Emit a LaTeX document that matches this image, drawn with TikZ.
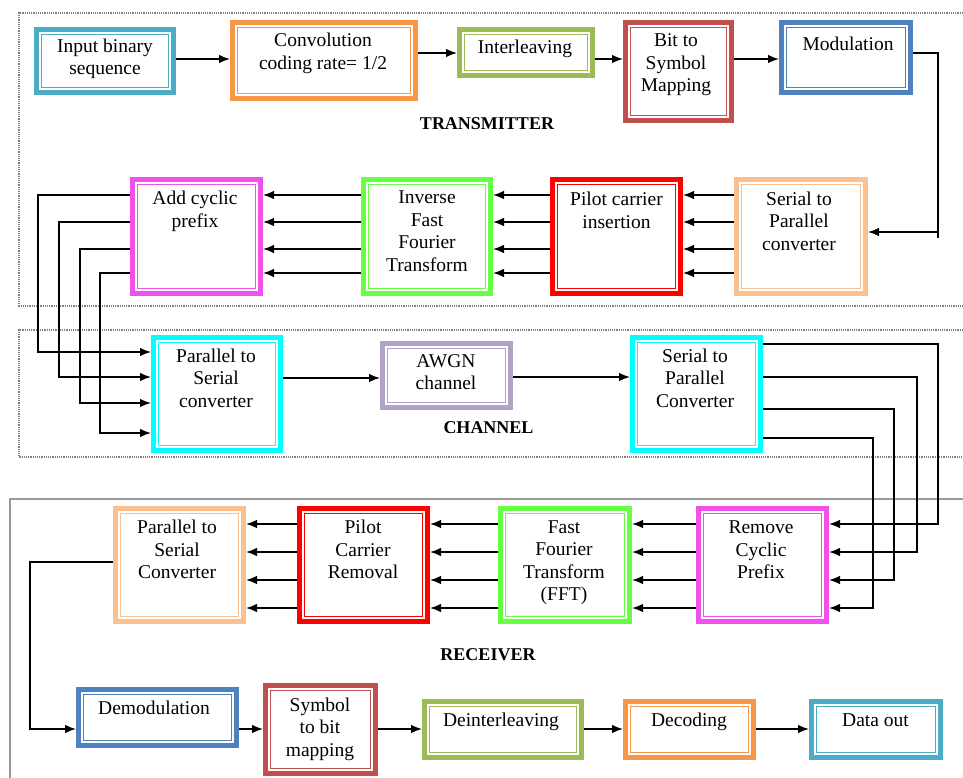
\documentclass[tikz,border=0pt]{standalone}
\usepackage{fontspec}
\setmainfont{Liberation Serif}
\usetikzlibrary{arrows.meta}
\definecolor{cTeal}{HTML}{4BACC6}
\definecolor{cOrange}{HTML}{F79646}
\definecolor{cOlive}{HTML}{9BBB59}
\definecolor{cDRed}{HTML}{C0504D}
\definecolor{cBlue}{HTML}{4F81BD}
\definecolor{cMag}{HTML}{F050EC}
\definecolor{cGreen}{HTML}{66FF44}
\definecolor{cRed}{HTML}{FF0000}
\definecolor{cLOrange}{HTML}{FAC090}
\definecolor{cCyan}{HTML}{00FFFF}
\definecolor{cLav}{HTML}{B3A2C7}
\begin{document}
\begin{tikzpicture}[x=1pt,y=-1pt,
  blk/.style={draw=#1, line width=5pt, inner sep=0pt, fill=white,
    path picture={\draw[#1, line width=1.1pt]
      ([shift={(4.6pt,-4.6pt)}]path picture bounding box.north west) rectangle
      ([shift={(-4.6pt,4.6pt)}]path picture bounding box.south east);}},
  txt/.style={font=\fontsize{19.5}{22.5}\selectfont, align=center, inner sep=0pt, anchor=base},
  ttl/.style={font=\bfseries\fontsize{18}{20}\selectfont, inner sep=0pt, anchor=base},
  arr/.style={draw=black, line width=1.4pt, -{Latex[length=11pt,width=8.5pt]}},
  ln/.style={draw=black, line width=1.4pt},
  frm/.style={draw=gray, densely dotted, line width=1.2pt},
  rfrm/.style={draw=gray!80, line width=1.2pt}]
\useasboundingbox (0,0) rectangle (963,778);

% frames
\draw[frm] (963,13) -- (19,13) -- (19,306) -- (963,306);
\draw[frm] (963,330) -- (19,330) -- (19,457) -- (963,457);
\draw[rfrm] (10,778) -- (10,499) -- (963,499);

% transmitter top row
\node[blk=cTeal, minimum width=137pt, minimum height=63pt] (inp) at (105,61) {};
\node[blk=cOrange, minimum width=183pt, minimum height=76pt] (conv) at (324,60.5) {};
\node[blk=cOlive, minimum width=133pt, minimum height=46pt] (intl) at (526,52.5) {};
\node[blk=cDRed, minimum width=106pt, minimum height=98pt] (b2s) at (678.5,71.5) {};
\node[blk=cBlue, minimum width=129pt, minimum height=70pt] (mod) at (846,57.5) {};
% transmitter second row
\node[blk=cMag, minimum width=128pt, minimum height=114pt] (acp) at (196.5,236.5) {};
\node[blk=cGreen, minimum width=127pt, minimum height=114pt] (ifft) at (427,236.5) {};
\node[blk=cRed, minimum width=128pt, minimum height=114pt] (pci) at (616.5,236.5) {};
\node[blk=cLOrange, minimum width=129pt, minimum height=114pt] (s2p) at (801,236.5) {};
% channel
\node[blk=cCyan, minimum width=127pt, minimum height=113pt] (p2sc) at (217,394) {};
\node[blk=cLav, minimum width=128pt, minimum height=64pt] (awgn) at (446.5,375.5) {};
\node[blk=cCyan, minimum width=128pt, minimum height=113pt] (s2pc) at (696.5,394) {};
% receiver first row
\node[blk=cLOrange, minimum width=128pt, minimum height=113pt] (p2sr) at (179.5,565) {};
\node[blk=cRed, minimum width=128pt, minimum height=113pt] (pcr) at (363.5,565) {};
\node[blk=cGreen, minimum width=129pt, minimum height=113pt] (fft) at (565,565) {};
\node[blk=cMag, minimum width=128pt, minimum height=113pt] (rcp) at (762.5,565) {};
% receiver bottom row
\node[blk=cBlue, minimum width=158pt, minimum height=56pt] (demod) at (157.5,717.5) {};
\node[blk=cDRed, minimum width=110pt, minimum height=88pt] (s2b) at (320.5,729.5) {};
\node[blk=cOlive, minimum width=157pt, minimum height=56pt] (dint) at (503,729.5) {};
\node[blk=cOrange, minimum width=128pt, minimum height=56pt] (dec) at (689.5,729.5) {};
\node[blk=cTeal, minimum width=129pt, minimum height=56pt] (dout) at (876,729.5) {};

% texts (anchored at the baseline of the last line)
\node[txt] (tinp) at (105,75) {Input binary\\sequence};
\node[txt] (tconv) at (323,69.5) {Convolution\\coding rate= 1/2};
\node[txt] (tintl) at (525,54) {Interleaving};
\node[txt] (tb2s) at (676,92) {Bit to\\Symbol\\Mapping};
\node[txt] (tmod) at (848,51) {Modulation};
\node[txt] (tacp) at (195,227) {Add cyclic\\prefix};
\node[txt] (tifft) at (427,271) {Inverse\\Fast\\Fourier\\Transform};
\node[txt] (tpci) at (616.5,228) {Pilot carrier\\insertion};
\node[txt] (ts2p) at (799,250) {Serial to\\Parallel\\converter};
\node[txt] (tp2sc) at (216,407) {Parallel to\\Serial\\converter};
\node[txt] (tawgn) at (446,389.5) {AWGN\\channel};
\node[txt] (ts2pc) at (695,407) {Serial to\\Parallel\\Converter};
\node[txt] (tp2sr) at (177,578.5) {Parallel to\\Serial\\Converter};
\node[txt] (tpcr) at (363,578.5) {Pilot\\Carrier\\Removal};
\node[txt] (tfft) at (564,600.5) {Fast\\Fourier\\Transform\\(FFT)};
\node[txt] (trcp) at (761,578.5) {Remove\\Cyclic\\Prefix};
\node[txt] (tdemod) at (154,714) {Demodulation};
\node[txt] (ts2b) at (320,756) {Symbol\\to bit\\mapping};
\node[txt] (tdint) at (501,726) {Deinterleaving};
\node[txt] (tdec) at (689,726) {Decoding};
\node[txt] (tdout) at (875.5,726) {Data out};

% section titles
\node[ttl] (ltx) at (487,130) {TRANSMITTER};
\node[ttl] (lch) at (488.5,433) {CHANNEL};
\node[ttl] (lrx) at (488,660) {RECEIVER};

% top row connectors
\draw[arr] (inp.east |- 0,59) -- (conv.west |- 0,59);
\draw[arr] (conv.east |- 0,53) -- (intl.west |- 0,53);
\draw[arr] (intl.east |- 0,59) -- (b2s.west |- 0,59);
\draw[arr] (b2s.east |- 0,59) -- (mod.west |- 0,59);
\coordinate (m1) at (938,53);
\coordinate (m2) at (938,238);
\coordinate (m3) at (938,232);
\draw[ln] (mod.east |- m1) -- (m1) -- (m2);
\draw[arr] (m3) -- (s2p.east |- m3);

% second row connectors
\foreach \yy in {195,222,249,273} {
  \draw[arr] (s2p.west |- 0,\yy) -- (pci.east |- 0,\yy);
  \draw[arr] (pci.west |- 0,\yy) -- (ifft.east |- 0,\yy);
  \draw[arr] (ifft.west |- 0,\yy) -- (acp.east |- 0,\yy);
}
\foreach \yy/\xx/\yb in {195/38/352,222/59/377,249/80/403,273/100/433} {
  \coordinate (a\xx) at (\xx,\yy);
  \coordinate (b\xx) at (\xx,\yb);
  \draw[arr] (acp.west |- a\xx) -- (a\xx) -- (b\xx) -- (p2sc.west |- b\xx);
}

% channel connectors
\draw[arr] (p2sc.east |- 0,378) -- (awgn.west |- 0,378);
\draw[arr] (awgn.east |- 0,377) -- (s2pc.west |- 0,377);
\foreach \ya/\xx/\yb in {344/938/524,377/917/552,409/894/580,438/873/608} {
  \coordinate (c\xx) at (\xx,\ya);
  \coordinate (d\xx) at (\xx,\yb);
  \draw[arr] (s2pc.east |- c\xx) -- (c\xx) -- (d\xx) -- (rcp.east |- d\xx);
}

% receiver connectors
\foreach \yy in {524,552,580,608} {
  \draw[arr] (rcp.west |- 0,\yy) -- (fft.east |- 0,\yy);
  \draw[arr] (fft.west |- 0,\yy) -- (pcr.east |- 0,\yy);
  \draw[arr] (pcr.west |- 0,\yy) -- (p2sr.east |- 0,\yy);
}
\coordinate (r1) at (30,562);
\coordinate (r2) at (30,729);
\draw[arr] (p2sr.west |- r1) -- (r1) -- (r2) -- (demod.west |- r2);
\draw[arr] (demod.east |- r2) -- (s2b.west |- r2);
\draw[arr] (s2b.east |- r2) -- (dint.west |- r2);
\draw[arr] (dint.east |- r2) -- (dec.west |- r2);
\draw[arr] (dec.east |- r2) -- (dout.west |- r2);
\end{tikzpicture}
\end{document}
